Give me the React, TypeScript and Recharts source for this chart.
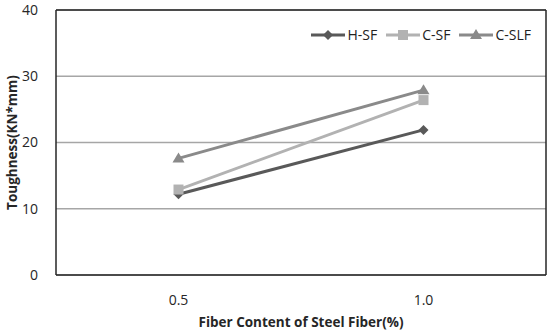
import React from 'react'
import { LineChart, Line, XAxis, YAxis, CartesianGrid, ReferenceLine } from 'recharts'

const categories = ['0.5', '1.0']
const hsf = [12.2, 21.9]
const csf = [12.9, 26.4]
const cslf = [17.6, 27.9]
const yTicks = [0, 10, 20, 30, 40]

const data = categories.map((c, i) => ({ x: c, hsf: hsf[i], csf: csf[i], cslf: cslf[i] }))

const FONT = '"Open Sans", sans-serif'

const series = [
  { key: 'hsf', name: 'H-SF', color: '#595959', shape: 'diamond' },
  { key: 'csf', name: 'C-SF', color: '#b2b2b2', shape: 'square' },
  { key: 'cslf', name: 'C-SLF', color: '#8a8a8a', shape: 'triangle' },
]

function Marker({ cx, cy, shape, color }: { cx: number; cy: number; shape: string; color: string }) {
  if (cx == null || cy == null) return null
  if (shape === 'diamond') {
    return <path d={`M${cx},${cy - 5}L${cx + 5},${cy}L${cx},${cy + 5}L${cx - 5},${cy}Z`} fill={color} />
  }
  if (shape === 'square') {
    return <rect x={cx - 5} y={cy - 5} width={10} height={10} fill={color} />
  }
  return <path d={`M${cx},${cy - 6}L${cx + 6},${cy + 4}L${cx - 6},${cy + 4}Z`} fill={color} />
}

function renderDot(shape: string, color: string) {
  return (props: any) => <Marker key={`${shape}-${props.index}`} cx={props.cx} cy={props.cy} shape={shape} color={color} />
}

function ChartLegend() {
  return (
    <div
      style={{
        position: 'absolute',
        top: 25,
        right: 19,
        display: 'flex',
        fontFamily: FONT,
        fontSize: 14,
        color: '#222',
      }}
    >
      {series.map((s) => (
        <div key={s.key} style={{ display: 'flex', alignItems: 'center', marginLeft: 8 }}>
          <svg width={36} height={14}>
            <line x1={1} y1={7} x2={35} y2={7} stroke={s.color} strokeWidth={3} />
            <Marker cx={18} cy={7} shape={s.shape} color={s.color} />
          </svg>
          <span style={{ marginLeft: 1 }}>{s.name}</span>
        </div>
      ))}
    </div>
  )
}

export default function App() {
  return (
    <div style={{ position: 'absolute', left: 0, top: 0, width: 550, height: 335, background: '#fff' }}>
      <LineChart width={550} height={335} data={data} margin={{ top: 10, right: 0, bottom: 0, left: 0 }}>
        <CartesianGrid vertical={false} stroke="#a6a6a6" strokeWidth={1.5} />
        <XAxis
          dataKey="x"
          scale="band"
          height={60}
          tickLine={false}
          axisLine={{ stroke: '#262626', strokeWidth: 1.5 }}
          tick={{ fill: '#262626', fontSize: 14, fontFamily: FONT }}
          tickMargin={14}
          label={{
            value: 'Fiber Content of Steel Fiber(%)',
            position: 'insideBottom',
            offset: 8,
            fill: '#262626',
            fontSize: 13.5,
            fontWeight: 700,
            fontFamily: FONT,
          }}
        />
        <YAxis
          domain={[0, 40]}
          ticks={yTicks}
          width={56}
          tickLine={false}
          axisLine={{ stroke: '#262626', strokeWidth: 1.5 }}
          tick={{ fill: '#262626', fontSize: 14, fontFamily: FONT }}
          tickMargin={12}
          label={{
            value: 'Toughness(KN*mm)',
            angle: -90,
            position: 'insideLeft',
            offset: 12,
            style: { textAnchor: 'middle' },
            fill: '#262626',
            fontSize: 13.5,
            fontWeight: 700,
            fontFamily: FONT,
          }}
        />
        <YAxis
          yAxisId="right"
          orientation="right"
          domain={[0, 40]}
          width={4}
          tick={false}
          tickLine={false}
          axisLine={{ stroke: '#262626', strokeWidth: 1.5 }}
        />
        <ReferenceLine y={40} stroke="#262626" strokeWidth={1.5} />
        {series.map((s) => (
          <Line
            key={s.key}
            dataKey={s.key}
            name={s.name}
            stroke={s.color}
            strokeWidth={3}
            dot={renderDot(s.shape, s.color)}
            activeDot={false}
            isAnimationActive={false}
          />
        ))}
      </LineChart>
      <ChartLegend />
    </div>
  )
}
